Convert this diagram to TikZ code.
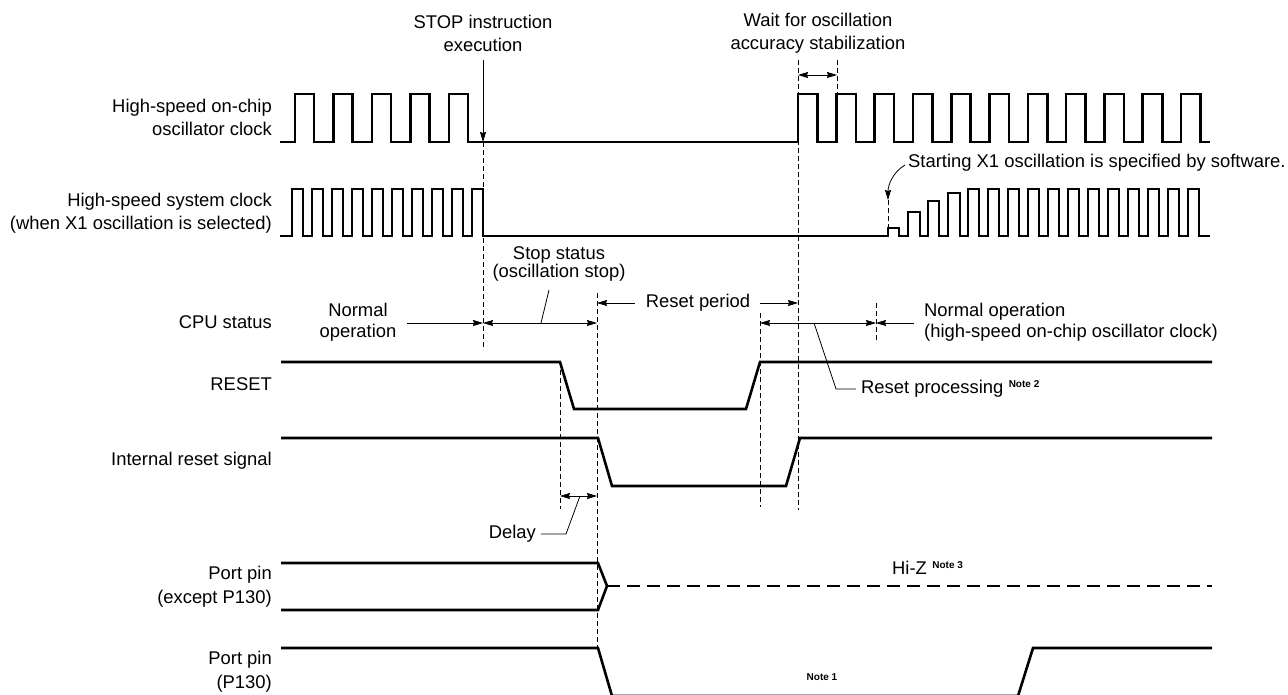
\documentclass[tikz,border=0pt]{standalone}
\usepackage{fontspec}
\setmainfont{Liberation Sans}
\definecolor{ink}{HTML}{000000}
\usetikzlibrary{arrows.meta, positioning, calc}
\tikzset{
  wave/.style={line width=2.6pt, line join=miter, color=ink},
  hiz/.style={wave, dash pattern=on 13pt off 7pt},
  guide/.style={line width=0.8pt, dash pattern=on 5pt off 3pt, color=ink},
  dim/.style={-{Stealth[length=10pt,width=6pt,inset=1pt]}, line width=0.8pt, color=ink},
  dimboth/.style={{Stealth[length=10pt,width=6pt,inset=1pt]}-{Stealth[length=10pt,width=6pt,inset=1pt]}, line width=0.8pt, color=ink},
  lead/.style={line width=0.8pt, color=ink},
  lbl/.style={font=\fontsize{18.4}{23}\selectfont, inner sep=0pt, align=center, color=ink},
  sig/.style={lbl, align=right, anchor=east},
  note/.style={font=\fontsize{10}{12}\selectfont\bfseries, inner sep=0pt, color=ink},
}
\begin{document}
\begin{tikzpicture}[x=1pt,y=-1pt]
\useasboundingbox (0,0) rectangle (1288,695);
% signal names
\node[sig] (lclk) at (272,117) {High-speed on-chip\\oscillator clock};
\node[sig] (lsys) at (272,213) {High-speed system clock\\(when X1 oscillation is selected)};
\node[sig] (lcpu) at (272,322) {CPU status};
\node[sig] (lrst) at (272,384) {RESET};
\node[sig] (lint) at (272,461) {Internal reset signal};
\node[sig, font=\fontsize{18.4}{24}\selectfont] (lport) at (272,587) {Port pin\\(except P130)};
\node[sig, font=\fontsize{18.4}{24}\selectfont] (lp130) at (272,672) {Port pin\\(P130)};
% waveforms
\draw[wave] (280,142) foreach \x in {295,333.5,372,410.5,449} { -- (\x,142) -- (\x,94) -- ({\x+19},94) -- ({\x+19},142) }
  foreach \k in {0,...,10} { -- ({798+38.3*\k},142) -- ({798+38.3*\k},94) -- ({817.5+38.3*\k},94) -- ({817.5+38.3*\k},142) } -- (1210,142);
\draw[wave] (280,236) foreach \k in {0,...,9} { -- ({292+20*\k},236) -- ({292+20*\k},189) -- ({303+20*\k},189) -- ({303+20*\k},236) }
  foreach \a/\b/\h in {888/899/228,908/920/212,928/939/201,948/960/193} { -- (\a,236) -- (\a,\h) -- (\b,\h) -- (\b,236) }
  foreach \k in {0,...,11} { -- ({968+20*\k},236) -- ({968+20*\k},189) -- ({979+20*\k},189) -- ({979+20*\k},236) } -- (1210,236);
\draw[wave] (281,362) -- (560,362) -- (574,409) -- (746,409) -- (760,362) -- (1212,362);
\draw[wave] (281,438) -- (598,438) -- (612,486) -- (786,486) -- (800,438) -- (1212,438);
\draw[wave] (281,563) -- (598,563) -- (607,586) -- (598,610) -- (281,610);
\draw[hiz] (607,586) -- (1212,586);
\draw[wave] (281,648) -- (598,648) -- (612,696) -- (1018,696) -- (1033,648) -- (1212,648);
% guide lines
\draw[guide] (483,142) -- (483,350);
\draw[guide] (798,60) -- (798,510);
\draw[guide] (837,60) -- (837,94);
\draw[guide] (597,293) -- (597,648);
\draw[guide] (560,362) -- (560,509);
\draw[guide] (760,313) -- (760,507);
\draw[guide] (876,303) -- (876,343);
\draw[guide] (888,200) -- (888,228);
% annotations
\node[lbl] (stop) at (483,33.5) {STOP instruction\\execution};
\coordinate (stopat) at (483,142);
\draw[dim] (483,60) -- (stopat);
\node[lbl] (wait) at (818,33.5) {Wait for oscillation\\accuracy stabilization};
\draw[dimboth] (798,75) -- (837,75);
\node[lbl, anchor=west] (xone) at (908,163) {Starting X1 oscillation is specified by software.};
\draw[dim] (xone.west) ++(-3,2) .. controls (893,172) and (888,185) .. (888,200);
\node[lbl, font=\fontsize{18.4}{17}\selectfont] (stopst) at (559,264) {Stop status\\(oscillation stop)};
\node[lbl, font=\fontsize{18.4}{21}\selectfont] (normL) at (358,322.5) {Normal\\operation};
\draw[dim] (407,323) -- (483,323);
\draw[dimboth] (483,323) -- (597,323);
\draw[lead] (541,323) -- (549,290);
\node[lbl] (rperiod) at (698,303) {Reset period};
\draw[dim] (rperiod.west) ++(-11,0) -- (597,303);
\draw[dim] (rperiod.east) ++(10,0) -- (798,303);
\draw[dimboth] (760,323) -- (876,323);
\node[lbl, anchor=west, align=left, font=\fontsize{18.4}{21}\selectfont] (normR) at (924,322.5) {Normal operation\\(high-speed on-chip oscillator clock)};
\draw[dim] (914,323) -- (876,323);
\node[lbl, anchor=west] (rproc) at (861,389) {Reset processing};
\node[note, anchor=base west] (n2) at ([shift={(5,-6)}]rproc.base east) {Note 2};
\draw[lead] (814,323) -- (836,389) -- ([xshift=-5pt]rproc.west);
\draw[dimboth] (560,496) -- (597,496);
\node[lbl, anchor=east] (delay) at (536,534) {Delay};
\draw[lead] (580,496) -- (566,534) -- ([xshift=5pt]delay.east);
\node[lbl, anchor=west] (hiz) at (892,568) {Hi-Z};
\node[note, anchor=base west] (n3) at ([shift={(5,-6)}]hiz.base east) {Note 3};
\node[note] (n1) at (822,677) {Note 1};
\end{tikzpicture}
\end{document}
